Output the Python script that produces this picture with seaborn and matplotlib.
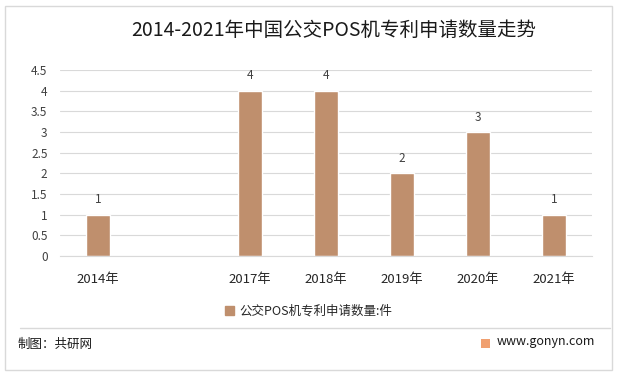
import numpy as np
import pandas as pd
import matplotlib
matplotlib.use('Agg')
import matplotlib.pyplot as plt
import matplotlib.patches as mpatches
from matplotlib.lines import Line2D
import seaborn as sns

# 数据
years = ['2014年', '', '2017年', '2018年', '2019年', '2020年', '2021年']
counts = [1, 0, 4, 4, 2, 3, 1]
y_ticks = [0, 0.5, 1, 1.5, 2, 2.5, 3, 3.5, 4, 4.5]
y_tick_labels = ['0', '0.5', '1', '1.5', '2', '2.5', '3', '3.5', '4', '4.5']

title = '2014-2021年中国公交POS机专利申请数量走势'
series_name = '公交POS机专利申请数量:件'
source_text = '制图：共研网'
site_text = 'www.gonyn.com'

bar_color = '#BF8F6D'
grid_color = '#D9D9D9'
text_color = '#404040'

sns.set_theme(style='white')
plt.rcParams['font.family'] = ['Noto Sans CJK SC', 'DejaVu Sans']

df = pd.DataFrame({'year': years, 'count': counts})

W, H = 617, 374
fig = plt.figure(figsize=(W / 100, H / 100), dpi=100)
fig.patch.set_facecolor('white')

ax = fig.add_axes([60 / W, 1 - 256 / H, 532 / W, 186 / H])
sns.barplot(data=df, x='year', y='count', color=bar_color, width=0.32,
            saturation=1, ax=ax)

ax.set_ylim(0, 4.5)
ax.set_yticks(y_ticks)
ax.set_yticklabels(y_tick_labels, fontsize=8.5, color=text_color)
ax.tick_params(axis='x', labelsize=9.5, colors='#262626', pad=12, length=0)
ax.tick_params(axis='y', length=0, pad=9)
ax.set_xlabel('')
ax.set_ylabel('')
ax.yaxis.grid(True, color=grid_color, linewidth=0.8)
ax.set_axisbelow(True)
for side in ['top', 'right', 'left']:
    ax.spines[side].set_visible(False)
ax.spines['bottom'].set_color(grid_color)
ax.spines['bottom'].set_linewidth(0.8)

# 数据标签
for i, v in enumerate(counts):
    if v > 0:
        ax.annotate(str(v), (i, v), xytext=(0, 6), textcoords='offset points',
                    ha='center', va='bottom', fontsize=8.5, color=text_color)

# 标题
fig.text(334 / W, 1 - 30 / H, title, ha='center', va='center', fontsize=14,
         color='#1a1a1a')

# 图例
handle = mpatches.Patch(color=bar_color, label=series_name)
fig.legend(handles=[handle], loc='center', bbox_to_anchor=(0.5, 1 - 311 / H),
           frameon=False, fontsize=9, handlelength=0.7, handleheight=0.7,
           handletextpad=0.4)

# 外框和分隔线
fig.patches.append(mpatches.Rectangle((5 / W, 4 / H), 607 / W, 364 / H,
                                      transform=fig.transFigure, fill=False,
                                      edgecolor=grid_color, linewidth=1))
fig.lines.append(Line2D([20 / W, 610 / W], [1 - 328 / H, 1 - 328 / H],
                        transform=fig.transFigure, color=grid_color,
                        linewidth=1))

# 底部文字
fig.text(18 / W, 1 - 344 / H, source_text, ha='left', va='center',
         fontsize=9, color='#1a1a1a')
fig.patches.append(mpatches.Rectangle((481 / W, 1 - 348 / H), 9 / W, 9 / H,
                                      transform=fig.transFigure,
                                      facecolor='#F0A070', edgecolor='none'))
fig.text(497 / W, 1 - 342 / H, site_text, ha='left', va='center',
         fontsize=9, color='#1a1a1a')

fig.savefig('out.png', dpi=100)
